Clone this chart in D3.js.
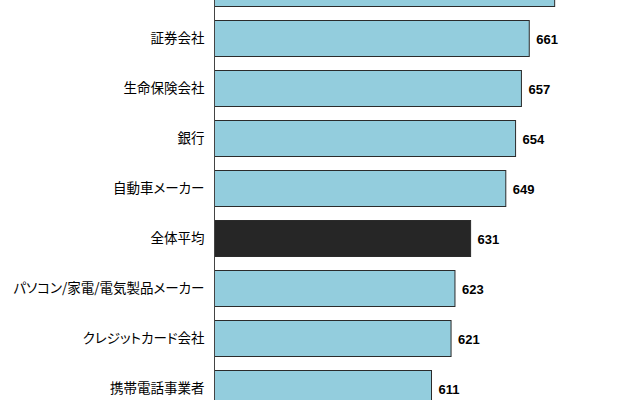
<!DOCTYPE html>
<html lang="ja">
<head>
<meta charset="utf-8">
<script src="https://cdn.jsdelivr.net/npm/d3@7"></script>
<style>
  body { margin: 0; background: #fff; }
  .label { font-family: "Noto Sans CJK JP", sans-serif; font-size: 13.5px; fill: #000; font-feature-settings: "palt"; }
  .value { font-family: "Liberation Sans", Arial, sans-serif; font-size: 13px; font-weight: bold; fill: #000; }
</style>
</head>
<body>
<div id="chart"></div>
<script>
// top bar is cut off in the picture, its name is a guess
const categories = [
  '損害保険会社',
  '証券会社',
  '生命保険会社',
  '銀行',
  '自動車メーカー',
  '全体平均',
  'パソコン/家電/電気製品メーカー',
  'クレジットカード会社',
  '携帯電話事業者',
];
const scores = [674, 661, 657, 654, 649, 631, 623, 621, 611];
const highlight = '全体平均';
const scoreDomain = [500, 700];

class Chart {
  constructor(target) {
    this.container = target;
    this.setDimensions();
    this.drawScene();
  }

  setDimensions() {
    this.dimensions = { width: 640, height: 400 };
    this.margins = { left: 214.5, top: -37 };
  }

  drawScene() {
    this.scene = d3.select(this.container)
      .append('svg')
      .attr('width', this.dimensions.width)
      .attr('height', this.dimensions.height);
  }

  draw(names, values) {
    this.rows = names.map((name, i) => ({ name, value: values[i] }));
    this.setScales();
    this.drawBars();
    this.drawAxis();
  }

  setScales() {
    this.xScale = d3.scaleLinear()
      .domain(scoreDomain)
      .range([this.margins.left, this.margins.left + 391]);

    this.yScale = d3.scaleBand()
      .domain(this.rows.map(d => d.name))
      .range([this.margins.top, this.margins.top + this.rows.length * 50])
      .paddingInner(0.28)
      .paddingOuter(0.14);
  }

  drawBars() {
    const x = this.xScale;
    const y = this.yScale;

    this.scene.append('g')
      .selectAll('rect')
      .data(this.rows)
      .join('rect')
      .attr('x', x(scoreDomain[0]))
      .attr('y', d => y(d.name) + 0.5)
      .attr('width', d => x(d.value) - x(scoreDomain[0]))
      .attr('height', y.bandwidth())
      .attr('fill', d => (d.name === highlight ? '#262626' : '#93cddd'))
      .attr('stroke', '#2b2b2b')
      .attr('stroke-width', 1);

    this.scene.append('g')
      .selectAll('text')
      .data(this.rows)
      .join('text')
      .attr('class', 'value')
      .attr('x', d => x(d.value) + 7)
      .attr('y', d => y(d.name) + y.bandwidth() / 2 + 1)
      .attr('dominant-baseline', 'central')
      .text(d => d.value);
  }

  drawAxis() {
    const left = d3.axisLeft(this.yScale).tickSize(0).tickPadding(10);

    const axis = this.scene.append('g')
      .attr('transform', `translate(${this.margins.left}, 0)`)
      .call(left);

    axis.select('.domain').attr('stroke', '#444').attr('d', `M0,${this.margins.top}V${this.dimensions.height + 20}`);
    axis.selectAll('text')
      .attr('class', 'label')
      .attr('font-family', null)
      .attr('font-size', null)
      .attr('dy', '0.4em');
  }
}

new Chart('#chart').draw(categories, scores);
</script>
</body>
</html>
